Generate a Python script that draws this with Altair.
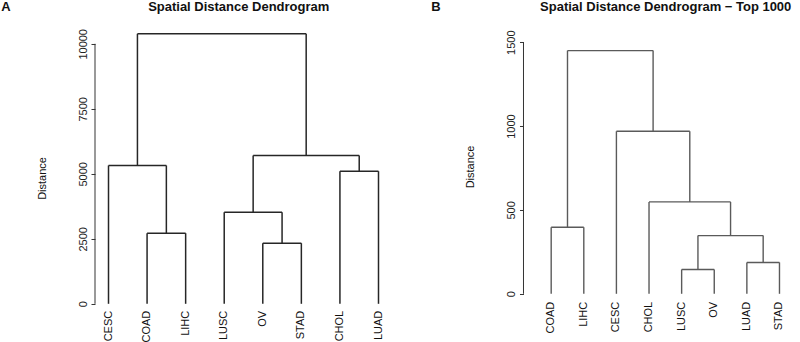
import altair as alt
import pandas as pd

# ---------------- data ----------------
# Panel A
leaves_a = ["CESC", "COAD", "LIHC", "LUSC", "OV", "STAD", "CHOL", "LUAD"]
merge_left_a = ["COAD", "OV", "LUSC", "CHOL", "CESC", "m3", "m5"]
merge_right_a = ["LIHC", "STAD", "m2", "LUAD", "m1", "m4", "m6"]
heights_a = [2716, 2331, 3525, 5100, 5320, 5705, 10385]
ticks_a = [0, 2500, 5000, 7500, 10000]

# Panel B
leaves_b = ["COAD", "LIHC", "CESC", "CHOL", "LUSC", "OV", "LUAD", "STAD"]
merge_left_b = ["LUSC", "LUAD", "m1", "COAD", "CHOL", "CESC", "m4"]
merge_right_b = ["OV", "STAD", "m2", "LIHC", "m3", "m5", "m6"]
heights_b = [145, 187, 347, 397, 548, 969, 1450]
ticks_b = [0, 500, 1000, 1500]

title_a = "Spatial Distance Dendrogram"
title_b = "Spatial Distance Dendrogram \u2212 Top 1000"


def segments(leaves, lefts, rights, heights):
    pos = {name: (i + 1, 0.0) for i, name in enumerate(leaves)}
    rows = []
    for k, (l, r, h) in enumerate(zip(lefts, rights, heights)):
        x1, h1 = pos[l]
        x2, h2 = pos[r]
        rows.append(dict(x=x1, y=h1, x2=x1, y2=h))
        rows.append(dict(x=x2, y=h2, x2=x2, y2=h))
        rows.append(dict(x=x1, y=h, x2=x2, y2=h))
        pos[f"m{k + 1}"] = ((x1 + x2) / 2, h)
    return pd.DataFrame(rows)


def panel(leaves, lefts, rights, heights, ticks, title, letter,
          xdom, ydom, width, height, color, sw,
          title_x, letter_x, dist_x, dist_y, leaf_dx):
    xs = alt.Scale(domain=xdom, nice=False, zero=False)
    ys = alt.Scale(domain=ydom, nice=False, zero=False)
    yaxis = alt.Axis(
        values=ticks, format="d", title="Distance", domain=False, grid=False,
        tickSize=4, tickColor="#333333", tickWidth=1,
        labelAngle=270, labelAlign="center", labelBaseline="middle",
        labelPadding=8, labelFontSize=11, labelFont="Liberation Sans",
        labelColor="#222222", labelOverlap=False, labelFlush=False,
        titleFont="Liberation Sans", titleFontSize=11, titleFontWeight="normal",
        titleColor="#111111", titleAngle=270, titleAlign="center",
        titleBaseline="middle", titleX=dist_x, titleY=dist_y,
    )
    seg = segments(leaves, lefts, rights, heights)
    tree = alt.Chart(seg).mark_rule(color=color, strokeWidth=sw).encode(
        x=alt.X("x:Q", scale=xs, axis=None),
        y=alt.Y("y:Q", scale=ys, axis=yaxis),
        x2="x2:Q", y2="y2:Q",
    )
    axis_line = alt.Chart(
        pd.DataFrame({"y": [ticks[0]], "y2": [ticks[-1]]})
    ).mark_rule(color="#333333", strokeWidth=1).encode(
        x=alt.value(0),
        y=alt.Y("y:Q", scale=ys, axis=yaxis),
        y2="y2:Q",
    )
    leaf_df = pd.DataFrame({
        "leaf": leaves,
        "x": list(range(1, len(leaves) + 1)),
        "y": [0] * len(leaves),
    })
    labels = alt.Chart(leaf_df).mark_text(
        angle=270, align="right", baseline="middle", dx=leaf_dx,
        fontSize=11, font="Liberation Sans", color="#111111",
    ).encode(
        x=alt.X("x:Q", scale=xs, axis=None),
        y=alt.Y("y:Q", scale=ys, axis=yaxis),
        text="leaf:N",
    )
    ttl = alt.Chart(pd.DataFrame({"t": [title]})).mark_text(
        align="center", baseline="middle", fontSize=13, fontWeight="bold",
        font="Liberation Sans", color="#111111",
    ).encode(text="t:N", x=alt.value(title_x), y=alt.value(-15.5))
    let = alt.Chart(pd.DataFrame({"t": [letter]})).mark_text(
        align="left", baseline="middle", fontSize=13, fontWeight="bold",
        font="Liberation Sans", color="#111111",
    ).encode(text="t:N", x=alt.value(letter_x), y=alt.value(-15.5))
    return alt.layer(tree, axis_line, labels, ttl, let).properties(
        width=width, height=height
    )


pa = panel(leaves_a, merge_left_a, merge_right_a, heights_a, ticks_a, title_a, "A",
           [0.65, 8.35], [-415, 10800], 297.0, 291.6, "#262626", 1.5,
           143.7, -93.8, -53, 155, -7)
pb = panel(leaves_b, merge_left_b, merge_right_b, heights_b, ticks_b, title_b, "B",
           [0.151, 8.35], [-124, 1614.5], 267.4, 291.6, "#5a5a5a", 1.4,
           142.2, -92.3, -53, 143.5, -8)

chart = alt.hconcat(pa, pb, spacing=131.5, bounds="flush").properties(
    padding={"left": 1, "top": 1, "right": 0, "bottom": 0},
    background="white",
).configure_view(stroke=None, strokeWidth=0)

chart.save("out.html", embed_options={"renderer": "svg", "actions": False})
